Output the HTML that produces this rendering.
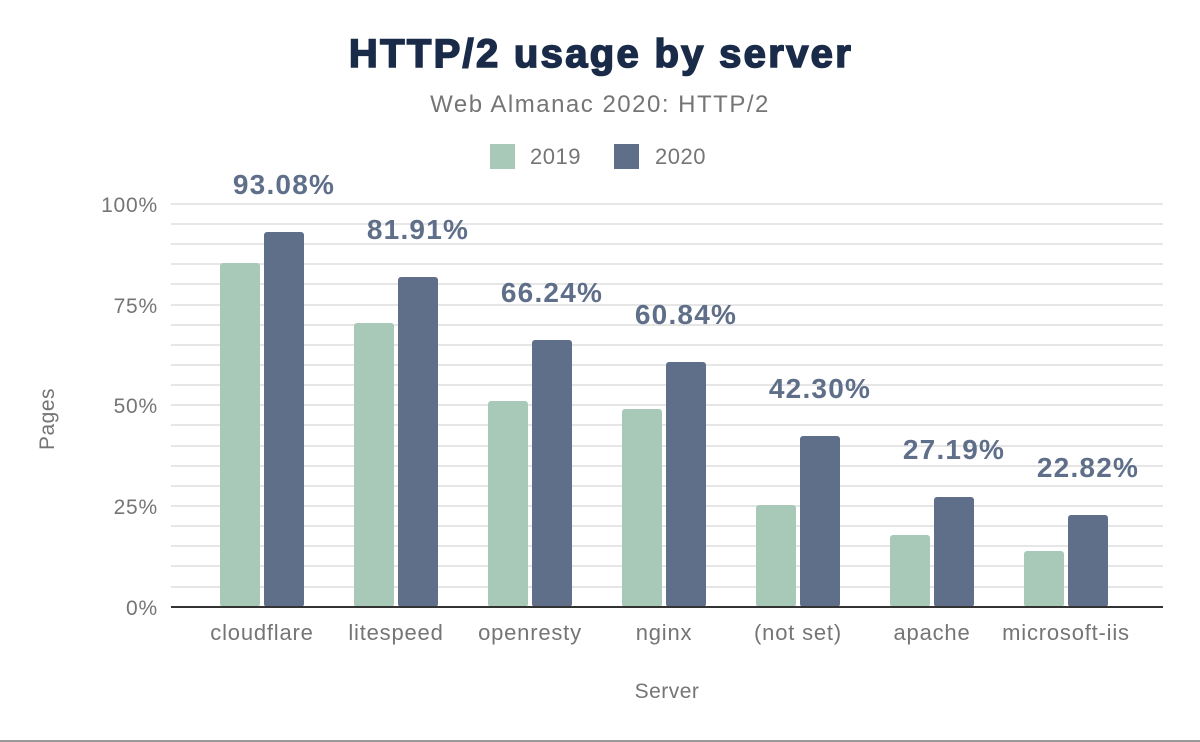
<!DOCTYPE html>
<html><head><style>
body{margin:0;background:#fff;}
svg{display:block;font-family:"Liberation Sans",Arial,sans-serif;}
</style></head><body>
<svg width="1200" height="742" viewBox="0 0 1200 742">
<rect width="1200" height="742" fill="#fff"/>
<text x="601" y="67" text-anchor="middle" font-size="40" font-weight="900" fill="#1a2b49" stroke="#1a2b49" stroke-width="1.6" letter-spacing="2.3">HTTP/2 usage by server</text>
<text x="600" y="112" text-anchor="middle" font-size="24" fill="#757575" letter-spacing="1.5">Web Almanac 2020: HTTP/2</text>
<rect x="490" y="144" width="25" height="25" fill="#a8c9b8"/>
<text x="530" y="164" font-size="22" fill="#757575" letter-spacing="0.5">2019</text>
<rect x="614" y="144" width="25" height="25" fill="#5f6f89"/>
<text x="655" y="164" font-size="22" fill="#757575" letter-spacing="0.5">2020</text>
<g stroke="#e6e6e6" stroke-width="2">
<line x1="171" x2="1163" y1="204" y2="204"/><line x1="171" x2="1163" y1="224" y2="224"/><line x1="171" x2="1163" y1="244" y2="244"/><line x1="171" x2="1163" y1="264" y2="264"/><line x1="171" x2="1163" y1="284" y2="284"/><line x1="171" x2="1163" y1="305" y2="305"/><line x1="171" x2="1163" y1="325" y2="325"/><line x1="171" x2="1163" y1="345" y2="345"/><line x1="171" x2="1163" y1="365" y2="365"/><line x1="171" x2="1163" y1="385" y2="385"/><line x1="171" x2="1163" y1="405" y2="405"/><line x1="171" x2="1163" y1="425" y2="425"/><line x1="171" x2="1163" y1="446" y2="446"/><line x1="171" x2="1163" y1="466" y2="466"/><line x1="171" x2="1163" y1="486" y2="486"/><line x1="171" x2="1163" y1="506" y2="506"/><line x1="171" x2="1163" y1="526" y2="526"/><line x1="171" x2="1163" y1="546" y2="546"/><line x1="171" x2="1163" y1="566" y2="566"/><line x1="171" x2="1163" y1="587" y2="587"/>
</g>
<g font-size="21" fill="#757575" text-anchor="end" letter-spacing="0.8">
<text x="158" y="212">100%</text><text x="158" y="313">75%</text><text x="158" y="413">50%</text><text x="158" y="514">25%</text><text x="158" y="615">0%</text>
</g>
<text transform="translate(54,419) rotate(-90)" text-anchor="middle" font-size="21" fill="#757575" letter-spacing="0.5">Pages</text>
<g fill="#a8c9b8">
<rect x="220" y="263" width="40" height="344" rx="3"/>
<rect x="354" y="323" width="40" height="284" rx="3"/>
<rect x="488" y="401" width="40" height="206" rx="3"/>
<rect x="622" y="409" width="40" height="198" rx="3"/>
<rect x="756" y="505" width="40" height="102" rx="3"/>
<rect x="890" y="535" width="40" height="72" rx="3"/>
<rect x="1024" y="551" width="40" height="56" rx="3"/>
</g>
<g fill="#5f6f89">
<rect x="264" y="232" width="40" height="375" rx="3"/>
<rect x="398" y="277" width="40" height="330" rx="3"/>
<rect x="532" y="340" width="40" height="267" rx="3"/>
<rect x="666" y="362" width="40" height="245" rx="3"/>
<rect x="800" y="436" width="40" height="171" rx="3"/>
<rect x="934" y="497" width="40" height="110" rx="3"/>
<rect x="1068" y="515" width="40" height="92" rx="3"/>
</g>
<g font-size="28" font-weight="bold" fill="#5f6f89" text-anchor="middle" letter-spacing="1.2">
<text x="284" y="194">93.08%</text>
<text x="418" y="239">81.91%</text>
<text x="552" y="302">66.24%</text>
<text x="686" y="324">60.84%</text>
<text x="820" y="398">42.30%</text>
<text x="954" y="459">27.19%</text>
<text x="1088" y="477">22.82%</text>
</g>
<line x1="171" x2="1163" y1="607" y2="607" stroke="#333" stroke-width="2"/>
<g font-size="22" fill="#757575" text-anchor="middle" letter-spacing="0.8">
<text x="262" y="640">cloudflare</text><text x="396" y="640">litespeed</text><text x="530" y="640">openresty</text><text x="664" y="640">nginx</text><text x="798" y="640">(not set)</text><text x="932" y="640">apache</text><text x="1066" y="640">microsoft-iis</text>
</g>
<text x="667" y="698" text-anchor="middle" font-size="21" fill="#757575" letter-spacing="0.5">Server</text>
<line x1="0" x2="1200" y1="741" y2="741" stroke="#999" stroke-width="2"/>
</svg>
</body></html>
